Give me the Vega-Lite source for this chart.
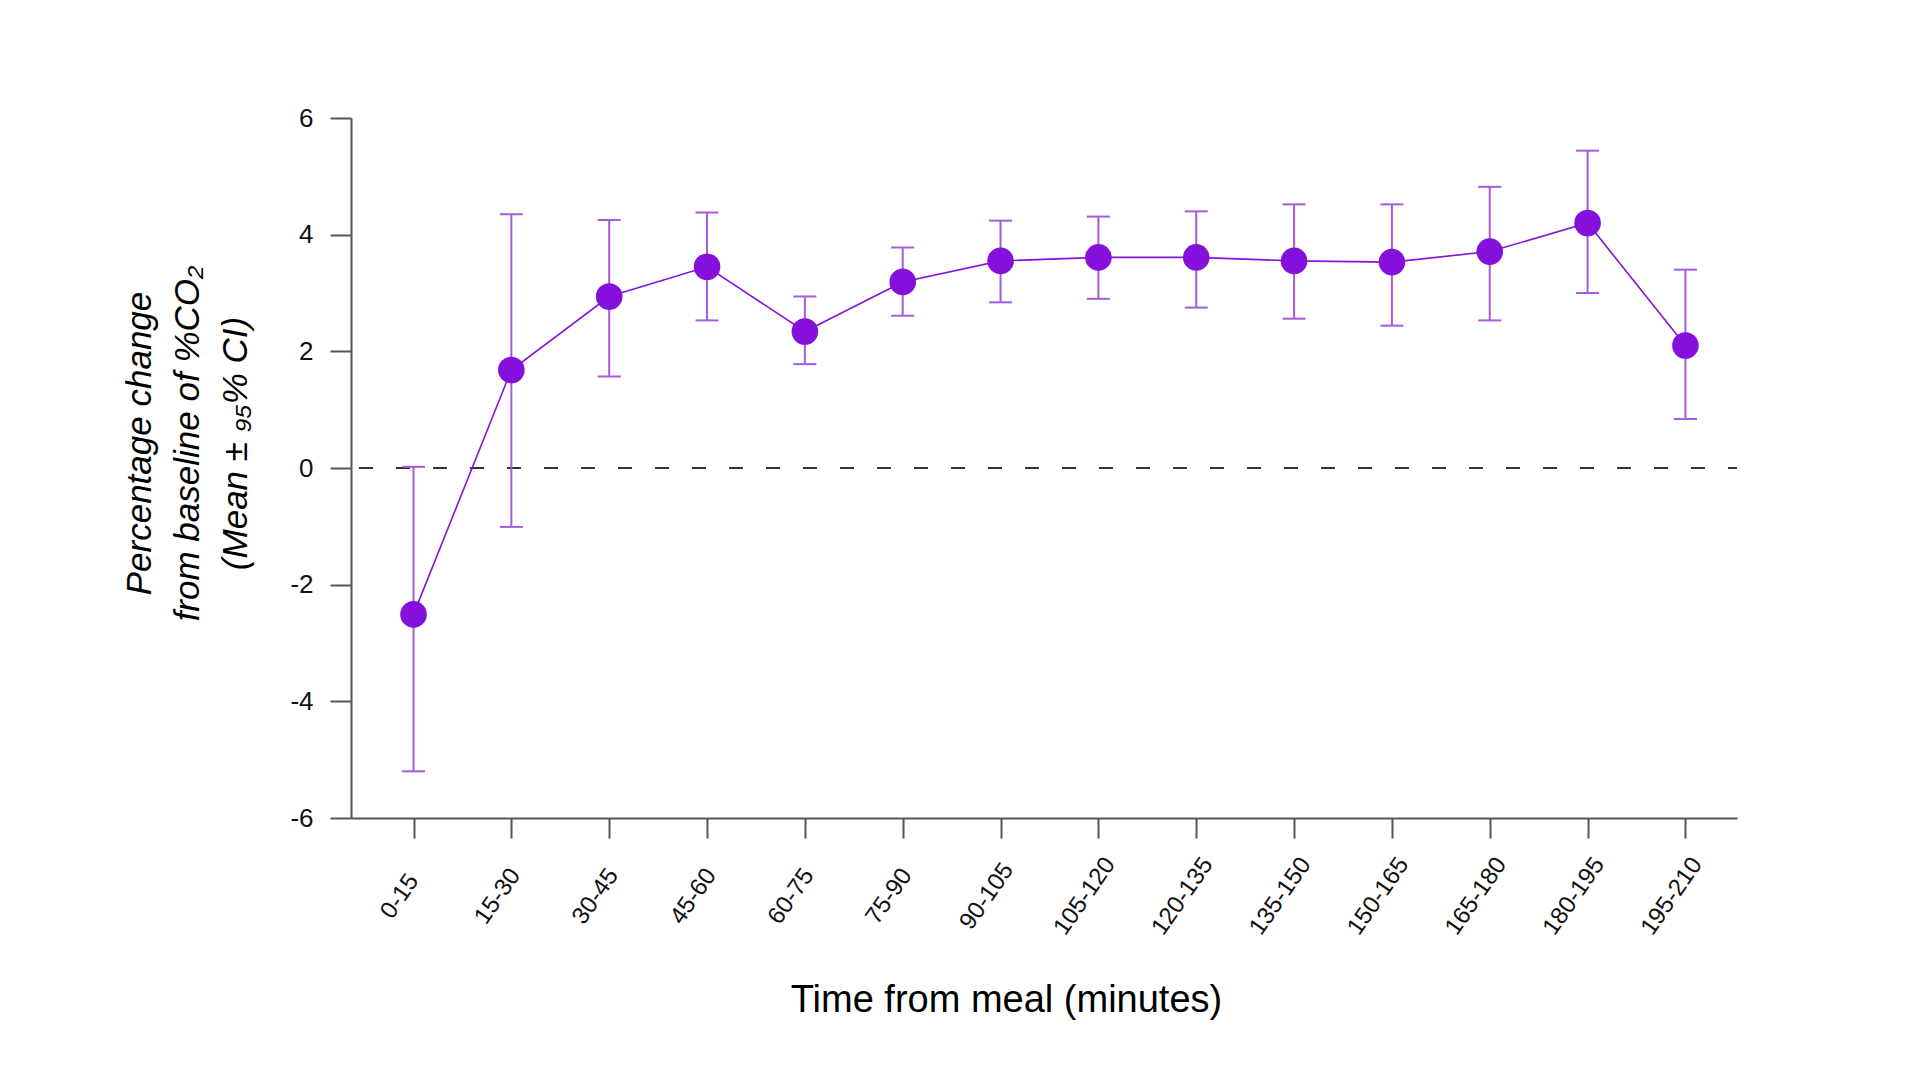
{
  "$schema": "https://vega.github.io/schema/vega-lite/v6.json",
  "width": 1386,
  "height": 700,
  "autosize": {"type": "none"},
  "padding": {"left": 351, "top": 118, "right": 183, "bottom": 262},
  "background": "white",
  "config": {
    "view": {"stroke": null},
    "font": "Liberation Sans",
    "axisX": {
      "domainColor": "#555555", "domainWidth": 2,
      "tickColor": "#555555", "tickWidth": 2, "tickSize": 20,
      "labelAngle": -55, "labelAlign": "center", "labelBaseline": "middle",
      "labelPadding": 58, "labelOffset": -14, "labelFontSize": 24, "labelColor": "#111111",
      "labelFont": "Liberation Sans", "labelOverlap": false, "labelBound": false, "labelFlush": false,
      "titleFont": "Liberation Sans", "titleFontSize": 38, "titleFontWeight": "normal", "titleColor": "#000000",
      "titleX": 655, "titleY": 193, "titleAlign": "center", "titleBaseline": "alphabetic",
      "grid": false
    },
    "axisY": {
      "domainColor": "#555555", "domainWidth": 2,
      "tickColor": "#555555", "tickWidth": 2, "tickSize": 21,
      "labelPadding": 17, "labelFontSize": 26, "labelColor": "#111111", "labelFont": "Liberation Sans",
      "labelExpr": "'' + datum.value",
      "titleFont": "Liberation Sans", "titleFontSize": 35, "titleFontStyle": "italic", "titleFontWeight": "normal",
      "titleColor": "#000000", "titleX": -212, "titleY": 325, "titleAngle": -90,
      "titleAlign": "center", "titleBaseline": "middle", "titleLineHeight": 48,
      "grid": false
    }
  },
  "data": {
    "values": [
      {"t": "0-15", "mean": -2.51, "lo": -5.2, "hi": 0.02},
      {"t": "15-30", "mean": 1.68, "lo": -1.01, "hi": 4.35},
      {"t": "30-45", "mean": 2.94, "lo": 1.57, "hi": 4.25},
      {"t": "45-60", "mean": 3.45, "lo": 2.53, "hi": 4.38},
      {"t": "60-75", "mean": 2.34, "lo": 1.78, "hi": 2.94},
      {"t": "75-90", "mean": 3.19, "lo": 2.61, "hi": 3.78},
      {"t": "90-105", "mean": 3.55, "lo": 2.84, "hi": 4.24},
      {"t": "105-120", "mean": 3.61, "lo": 2.9, "hi": 4.31},
      {"t": "120-135", "mean": 3.61, "lo": 2.75, "hi": 4.4},
      {"t": "135-150", "mean": 3.55, "lo": 2.56, "hi": 4.52},
      {"t": "150-165", "mean": 3.53, "lo": 2.44, "hi": 4.52},
      {"t": "165-180", "mean": 3.71, "lo": 2.53, "hi": 4.82},
      {"t": "180-195", "mean": 4.2, "lo": 3.0, "hi": 5.44},
      {"t": "195-210", "mean": 2.1, "lo": 0.84, "hi": 3.4}
    ]
  },
  "layer": [
    {
      "data": {"values": [{"z": 0}]},
      "mark": {"type": "rule", "color": "#333333", "strokeWidth": 1.8, "strokeDash": [14, 23], "strokeDashOffset": 5},
      "encoding": {
        "y": {"field": "z", "type": "quantitative", "scale": {"domain": [-6, 6], "nice": false, "zero": false},
              "axis": {"values": [-6, -4, -2, 0, 2, 4, 6]},
              "title": ["Percentage change", "from baseline of %CO₂", "(Mean ± ₉₅% CI)"]}
      }
    },
    {
      "mark": {"type": "rule", "color": "#A65BDD", "strokeWidth": 2},
      "encoding": {
        "x": {"field": "t", "type": "ordinal", "sort": null, "scale": {"type": "point", "padding": 0.583, "align": 0.548}, "title": "Time from meal (minutes)"},
        "y": {"field": "lo", "type": "quantitative", "scale": {"domain": [-6, 6], "nice": false, "zero": false},
              "axis": {"values": [-6, -4, -2, 0, 2, 4, 6]},
              "title": ["Percentage change", "from baseline of %CO₂", "(Mean ± ₉₅% CI)"]},
        "y2": {"field": "hi"}
      }
    },
    {
      "mark": {"type": "tick", "color": "#A65BDD", "size": 23, "thickness": 2, "opacity": 1},
      "encoding": {
        "x": {"field": "t", "type": "ordinal", "sort": null, "scale": {"type": "point", "padding": 0.583, "align": 0.548}, "title": "Time from meal (minutes)"},
        "y": {"field": "lo", "type": "quantitative", "scale": {"domain": [-6, 6], "nice": false, "zero": false},
              "axis": {"values": [-6, -4, -2, 0, 2, 4, 6]},
              "title": ["Percentage change", "from baseline of %CO₂", "(Mean ± ₉₅% CI)"]}
      }
    },
    {
      "mark": {"type": "tick", "color": "#A65BDD", "size": 23, "thickness": 2, "opacity": 1},
      "encoding": {
        "x": {"field": "t", "type": "ordinal", "sort": null, "scale": {"type": "point", "padding": 0.583, "align": 0.548}, "title": "Time from meal (minutes)"},
        "y": {"field": "hi", "type": "quantitative", "scale": {"domain": [-6, 6], "nice": false, "zero": false},
              "axis": {"values": [-6, -4, -2, 0, 2, 4, 6]},
              "title": ["Percentage change", "from baseline of %CO₂", "(Mean ± ₉₅% CI)"]}
      }
    },
    {
      "mark": {"type": "line", "color": "#8414DC", "strokeWidth": 1.6},
      "encoding": {
        "x": {"field": "t", "type": "ordinal", "sort": null, "scale": {"type": "point", "padding": 0.583, "align": 0.548}, "title": "Time from meal (minutes)"},
        "y": {"field": "mean", "type": "quantitative", "scale": {"domain": [-6, 6], "nice": false, "zero": false},
              "axis": {"values": [-6, -4, -2, 0, 2, 4, 6]},
              "title": ["Percentage change", "from baseline of %CO₂", "(Mean ± ₉₅% CI)"]}
      }
    },
    {
      "mark": {"type": "circle", "color": "#8510DB", "size": 707, "opacity": 1},
      "encoding": {
        "x": {"field": "t", "type": "ordinal", "sort": null, "scale": {"type": "point", "padding": 0.583, "align": 0.548}, "title": "Time from meal (minutes)"},
        "y": {"field": "mean", "type": "quantitative", "scale": {"domain": [-6, 6], "nice": false, "zero": false},
              "axis": {"values": [-6, -4, -2, 0, 2, 4, 6]},
              "title": ["Percentage change", "from baseline of %CO₂", "(Mean ± ₉₅% CI)"]}
      }
    }
  ]
}
